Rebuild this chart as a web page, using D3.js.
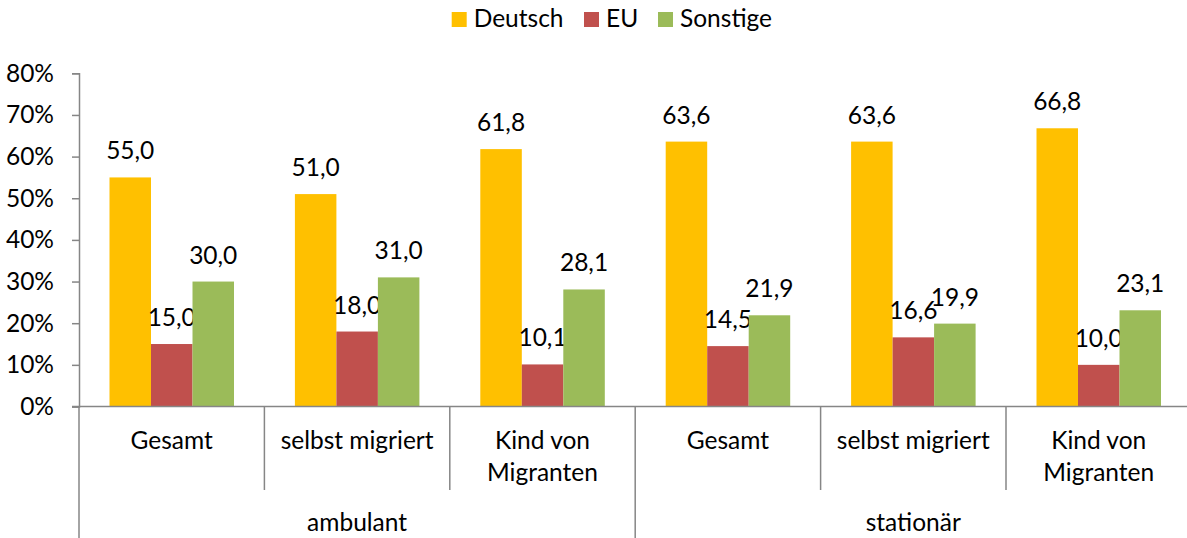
<!doctype html>
<html>
<head>
<meta charset="UTF-8">
<script src="https://d3js.org/d3.v7.min.js"></script>
<style>
  body { margin: 0; background: #fff; }
  text { font-family: Lato, "Noto Sans", sans-serif; fill: #000; }
</style>
</head>
<body>
<script>
// data
var outerCats = ["ambulant", "stationär"];
var innerCats = [["Gesamt"], ["selbst migriert"], ["Kind von", "Migranten"]];
var seriesNames = ["Deutsch", "EU", "Sonstige"];
var colors = ["#FFC000", "#C0504D", "#9BBB59"];
var deutsch  = [55.0, 51.0, 61.8, 63.6, 63.6, 66.8];
var eu       = [15.0, 18.0, 10.1, 14.5, 16.6, 10.0];
var sonstige = [30.0, 31.0, 28.1, 21.9, 19.9, 23.1];
var yTicks = [0, 10, 20, 30, 40, 50, 60, 70, 80];

var W = 1187, H = 538;
var fs = 24.5;
var axisColor = "#868686";

var svg = d3.select("body").append("svg").attr("width", W).attr("height", H);
svg.append("rect").attr("width", W).attr("height", H).attr("fill", "white");

var x0 = 79, x1 = 79 + 6 * 185.4;
var y = d3.scaleLinear().domain([0, 80]).range([406.5, 73.3]);

// groups: index 0..5
var groups = d3.range(6);
var xg = d3.scaleBand().domain(groups).range([x0, x1]).padding(0);
var xs = d3.scaleBand().domain(d3.range(3)).range([30.5, 155]).padding(0);
var series = [deutsch, eu, sonstige];

// bars
series.forEach(function(vals, s){
  svg.append("g").selectAll("rect").data(vals).enter().append("rect")
    .attr("x", function(d,i){ return xg(i) + xs(s); })
    .attr("y", function(d){ return y(d); })
    .attr("width", xs.bandwidth())
    .attr("height", function(d){ return y(0) - y(d); })
    .attr("fill", colors[s]);
  svg.append("g").selectAll("text").data(vals).enter().append("text")
    .attr("x", function(d,i){ return xg(i) + xs(s) + xs.bandwidth()/2; })
    .attr("y", function(d){ return y(d) - 18; })
    .attr("text-anchor", "middle")
    .style("font-size", fs + "px")
    .text(function(d){ return d3.format(".1f")(d).replace(".", ","); });
});

// y axis
var yAxis = d3.axisLeft(y).tickValues(yTicks).tickSize(7).tickPadding(18)
  .tickFormat(function(d){ return d + "%"; });
var ga = svg.append("g").attr("transform", "translate(" + x0 + ",0)").call(yAxis);
ga.select(".domain").attr("stroke", axisColor).attr("stroke-width", 1.5);
ga.selectAll(".tick line").attr("stroke", axisColor).attr("stroke-width", 1.5);
ga.selectAll(".tick text").style("font-size", fs + "px").attr("font-family", null).attr("fill", "#000");

// x axis line
svg.append("line").attr("x1", x0 - 7).attr("x2", x1).attr("y1", y(0)).attr("y2", y(0))
  .attr("stroke", axisColor).attr("stroke-width", 1.5);

// separators
groups.concat([6]).forEach(function(i){
  var xx = i < 6 ? xg(i) : x1;
  var outer = (i % 3 === 0);
  svg.append("line").attr("x1", xx).attr("x2", xx)
    .attr("y1", y(0)).attr("y2", outer ? H : 490)
    .attr("stroke", axisColor).attr("stroke-width", 1.5);
});

// inner labels
groups.forEach(function(i){
  var lines = innerCats[i % 3];
  var t = svg.append("text").attr("text-anchor", "middle").style("font-size", fs + "px");
  lines.forEach(function(l, k){
    t.append("tspan").attr("x", xg(i) + xg.bandwidth()/2).attr("y", 448.5 + k * 32.5).text(l);
  });
});

// outer labels
outerCats.forEach(function(c, k){
  svg.append("text")
    .attr("x", xg(k*3) + xg.bandwidth() * 1.5)
    .attr("y", 531)
    .attr("text-anchor", "middle")
    .style("font-size", fs + "px")
    .text(c);
});

// legend
var legX = [451.7, 584, 658];
var lg = svg.append("g");
seriesNames.forEach(function(n, s){
  lg.append("rect").attr("x", legX[s]).attr("y", 12).attr("width", 15).attr("height", 15).attr("fill", colors[s]);
  lg.append("text").attr("x", legX[s] + 22).attr("y", 27).style("font-size", fs + "px").text(n);
});
</script>
</body>
</html>
